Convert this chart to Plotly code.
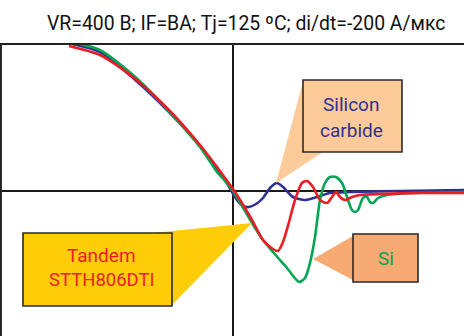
import plotly.graph_objects as go

# Reverse-recovery current waveforms (time in ns, current in A)
t_tandem = [-164, -133, -100, -66, -33, -16, -8, 4, 12, 19, 30, 40, 45, 50, 56, 62, 69, 74, 80, 87, 94,
            99, 103, 107, 112, 119, 127, 147, 187, 231]
i_tandem = [14.5, 13.6, 11.4, 8.3, 4.6, 2.4, 1.3, -0.4, -1.7, -2.9, -4.9, -5.8, -6.0, -5.1, -3.1, -0.9,
            0.8, 1.0, 0.4, -0.9, -1.2, -0.6, -0.1, -0.6, -0.9, -0.6, -0.4, -0.3, -0.2, -0.2]

t_si = [-153, -133, -100, -66, -33, -16, -8, 0, 19, 30, 40, 54, 66, 72, 77, 82, 87, 92, 97, 103, 109, 114,
        119, 122, 125, 130, 134, 137, 140, 145, 154, 180, 231]
i_si = [14.7, 14.1, 11.6, 8.2, 4.4, 1.9, 1.0, 0.0, -3.2, -4.9, -6.1, -7.7, -9.1, -8.7, -7.2, -4.6, -0.9, 0.8,
        1.4, 1.4, 0.8, -0.6, -1.9, -2.1, -1.9, -0.7, -0.6, -1.1, -1.2, -0.7, -0.4, -0.2, -0.1]

t_sic = [-161, -133, -100, -66, -33, -16, -8, 4, 10, 16, 23, 30, 37, 44, 50, 60, 72, 84, 97, 117, 167, 231]
i_sic = [14.7, 13.9, 11.3, 8.1, 4.5, 2.2, 1.1, -0.9, -1.5, -1.6, -1.3, -0.7, 0.3, 0.8, 0.4, -0.6, -0.9,
         -0.6, -0.2, -0.1, 0.0, 0.1]

title_text = "VR=400 В; IF=ВА; Tj=125 ºC; di/dt=-200 А/мкс"
label_sic = ["Silicon", "carbide"]
label_tandem = ["Tandem", "STTH806DTI"]
label_si = ["Si"]

W, H = 464, 336
TOP = 44          # top of plotting frame, px
X0, Y0 = 233, 191  # origin position, px
YS = 10.0          # px per ampere

X_RANGE = [0 - X0, W - X0]
Y_RANGE = [(Y0 - H) / YS, (Y0 - TOP) / YS]


def P(px, py):
    """Pixel position -> data coordinates."""
    return px - X0, (Y0 - py) / YS


def poly(points):
    parts = []
    for k, (px, py) in enumerate(points):
        x, y = P(px, py)
        parts.append(("M" if k == 0 else "L") + f"{x},{y}")
    return " ".join(parts) + " Z"


FONT = "Liberation Sans Narrow, Arial Narrow, Roboto, sans-serif"

fig = go.Figure()
for t, i, c in [(t_sic, i_sic, "#2E3192"), (t_si, i_si, "#00A651"), (t_tandem, i_tandem, "#ED1C24")]:
    fig.add_trace(go.Scatter(x=t, y=i, mode="lines",
                             line=dict(color=c, width=2.6, shape="spline", smoothing=0.7),
                             hoverinfo="skip", showlegend=False, cliponaxis=True))

shapes = []
# frame
shapes.append(dict(type="line", xref="paper", yref="paper", x0=0, x1=1, y0=1, y1=1,
                   line=dict(color="#222", width=2)))
shapes.append(dict(type="line", xref="paper", yref="paper", x0=0.002, x1=0.002, y0=0, y1=1,
                   line=dict(color="#222", width=2)))

# callouts
callouts = [
    ("#FDCB9A", [(302, 85), (323, 152), (276, 183)], (303, 80, 402, 152)),
    ("#FFCC08", [(152, 233), (172, 305), (252, 223)], (23, 233, 172, 306)),
    ("#F7AA72", [(353, 236), (353, 280), (313, 259)], (353, 234, 418, 282)),
]
for fill, tri, (bx0, by0, bx1, by1) in callouts:
    shapes.append(dict(type="path", path=poly(tri), fillcolor=fill, line=dict(width=0), layer="above"))
    x0, y0 = P(bx0, by0)
    x1, y1 = P(bx1, by1)
    shapes.append(dict(type="rect", x0=x0, y0=y0, x1=x1, y1=y1, fillcolor=fill,
                       line=dict(color="#2a2a2a", width=1.6), layer="above"))

annotations = []


def label(text, px, py, color, size=19):
    x, y = P(px, py)
    annotations.append(dict(x=x, y=y, text=text, showarrow=False, xanchor="center", yanchor="middle",
                            font=dict(family=FONT, size=size, color=color)))


label(label_sic[0], 351, 104, "#2E3192")
label(label_sic[1], 351, 130, "#2E3192")
label(label_tandem[0], 101, 255, "#ED1C24")
label(label_tandem[1], 102, 280, "#ED1C24", size=18.5)
label(label_si[0], 386, 258, "#00A651")

annotations.append(dict(xref="paper", yref="paper", x=246 / W, y=1 + (TOP - 23) / (H - TOP),
                        text=title_text, showarrow=False, xanchor="center", yanchor="middle",
                        font=dict(family=FONT, size=19.4, color="#111")))

fig.update_layout(
    width=W, height=H,
    margin=dict(l=0, r=0, t=TOP, b=0),
    paper_bgcolor="white", plot_bgcolor="white",
    xaxis=dict(range=X_RANGE, showgrid=False, showticklabels=False, ticks="",
               zeroline=True, zerolinecolor="#1a1a1a", zerolinewidth=1.5, fixedrange=True),
    yaxis=dict(range=Y_RANGE, showgrid=False, showticklabels=False, ticks="",
               zeroline=True, zerolinecolor="#1a1a1a", zerolinewidth=1.5, fixedrange=True),
    shapes=shapes,
    annotations=annotations,
)

fig.write_html("out.html", config={"displayModeBar": False})
